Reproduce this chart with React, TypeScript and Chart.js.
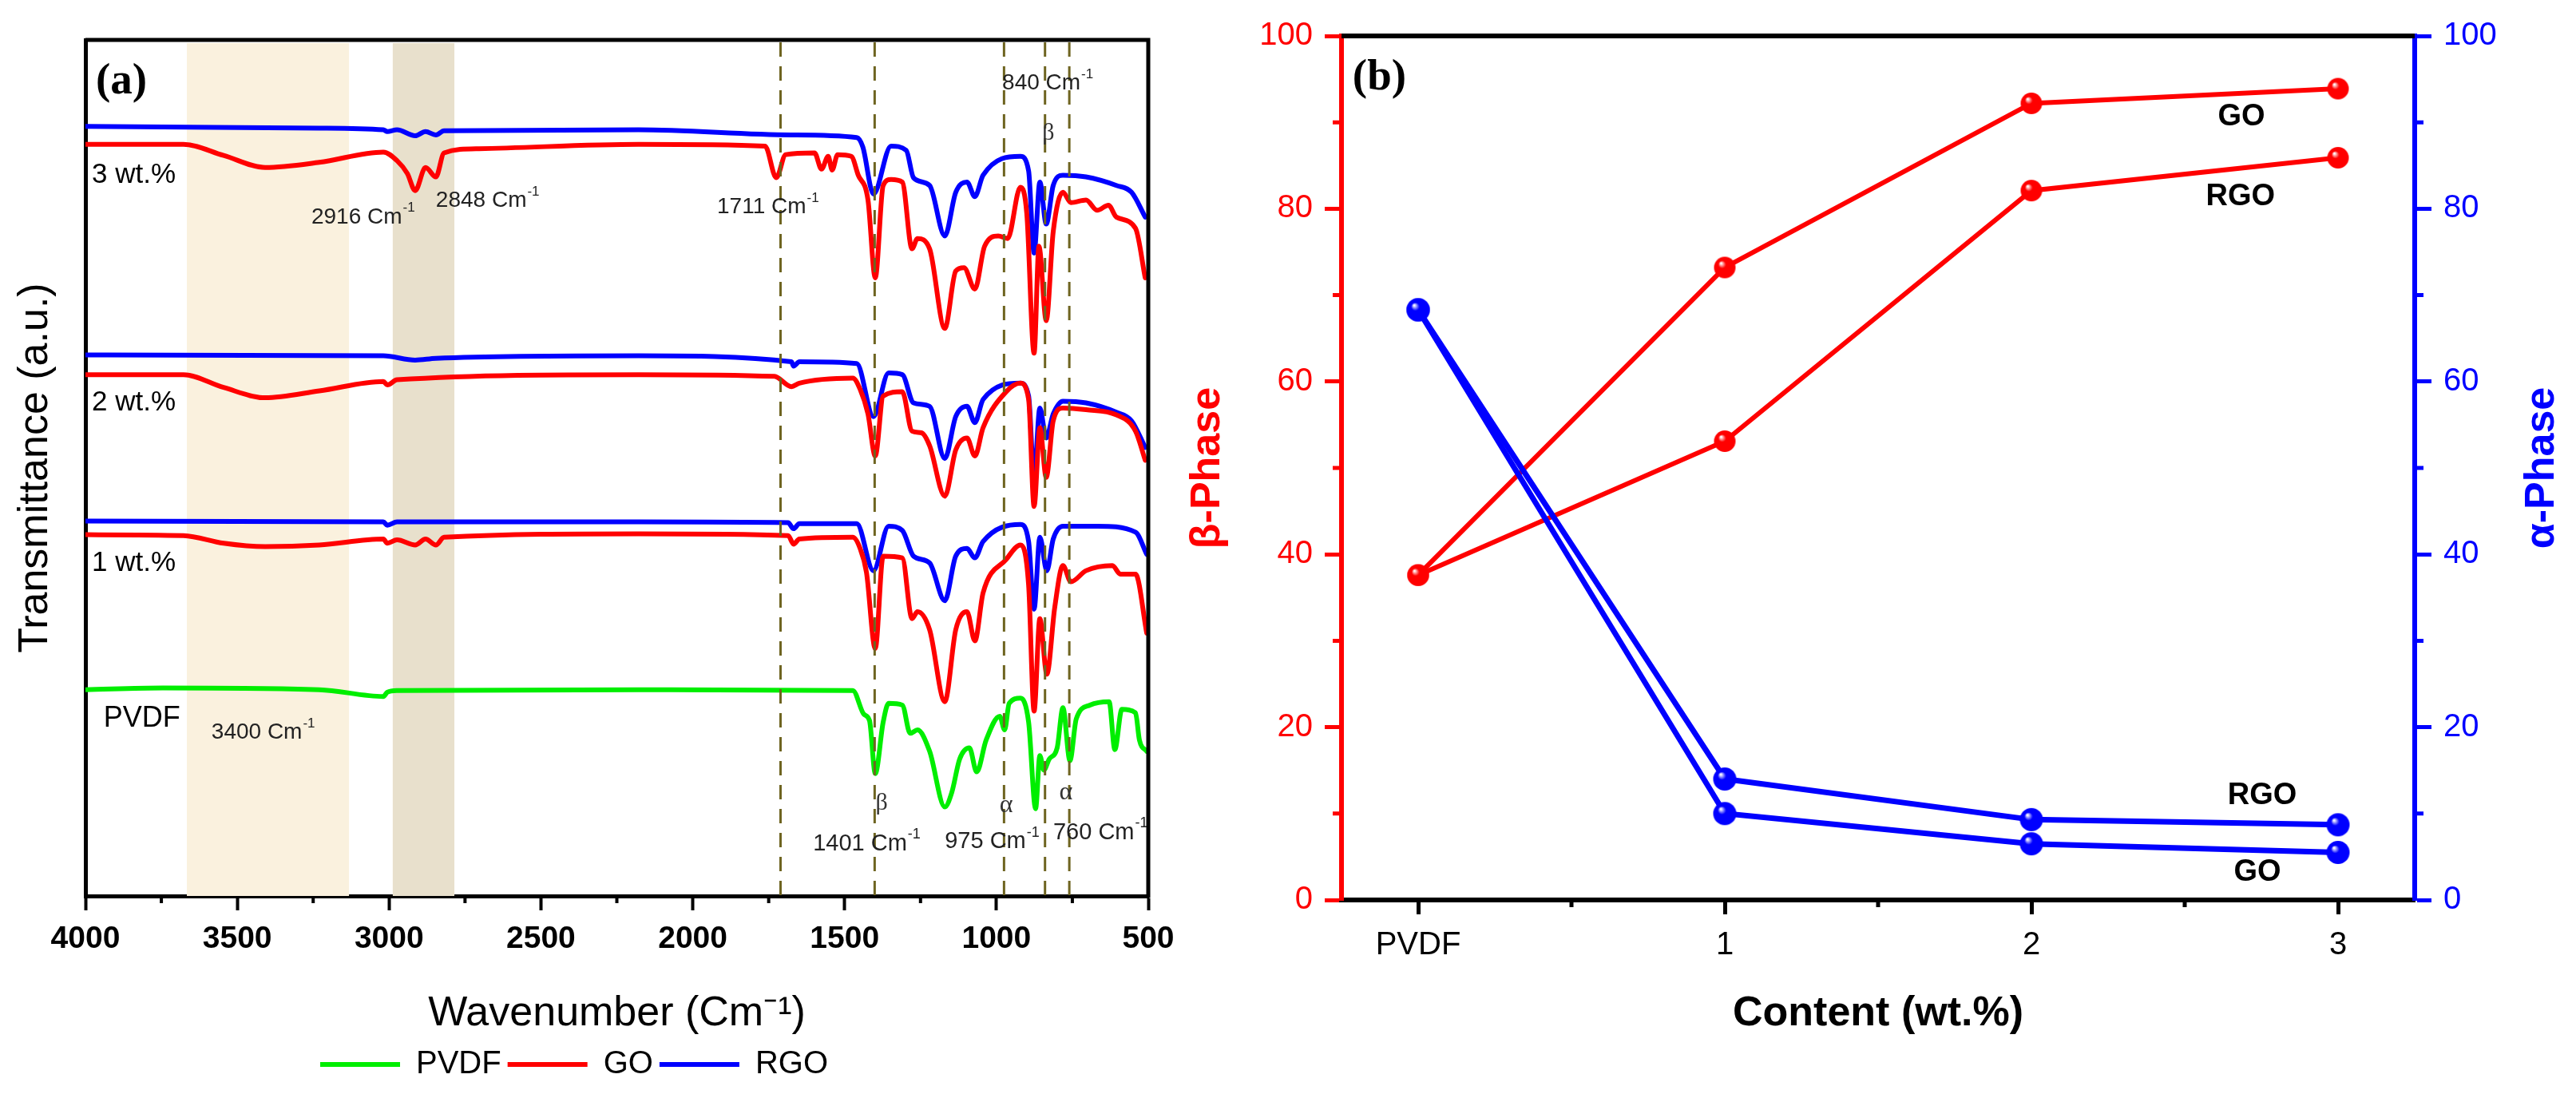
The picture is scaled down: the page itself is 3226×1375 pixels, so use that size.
import { useEffect, useRef } from 'react'
import { Chart, registerables } from 'chart.js'

Chart.register(...registerables)

const SANS = '"Liberation Sans", Arial, sans-serif'
const SERIF = '"Liberation Serif", "Times New Roman", serif'
const RED = '#ff0000'
const BLUE = '#0000ff'
const GREEN = '#00ee00'

// ---------- panel (a): FTIR spectra, [wavenumber (cm-1), transmittance (a.u.)] ----------
const pvdf = [
  [4000, 24.1], [3745, 24.3], [3230, 24.1], [3019, 23.3], [3006, 23.8], [2974, 24.0], [2178, 24.1],
  [1473, 24.0], [1436, 21.2], [1418, 20.5], [1399, 14.3], [1373, 20.3], [1355, 22.5], [1310, 22.3],
  [1284, 19.0], [1260, 19.4], [1220, 16.9], [1170, 10.4], [1147, 12.1], [1121, 16.0], [1089, 17.3],
  [1065, 14.5], [1034, 18.2], [989, 21.0], [973, 19.4], [958, 22.5], [921, 23.1], [894, 20.3],
  [871, 10.2], [857, 16.4], [844, 14.7], [826, 16.0], [800, 17.3], [781, 22.0], [758, 15.8],
  [737, 20.7], [692, 22.3], [629, 22.7], [610, 17.1], [587, 21.8], [542, 21.4], [529, 18.2], [505, 16.9],
]
const go1 = [
  [4000, 42.2], [3677, 42.1], [3545, 41.2], [3408, 40.8], [3230, 41.0], [3019, 41.7], [3006, 41.2],
  [2974, 41.6], [2914, 41.0], [2880, 41.7], [2846, 41.0], [2819, 41.9], [2178, 42.3], [1686, 42.1],
  [1668, 41.1], [1649, 41.7], [1473, 41.9], [1449, 40.6], [1428, 37.8], [1399, 28.9], [1373, 39.7],
  [1310, 39.5], [1278, 32.4], [1260, 33.2], [1220, 31.1], [1170, 22.7], [1134, 31.1], [1097, 33.2],
  [1071, 29.8], [1044, 35.4], [968, 39.3], [921, 41.0], [894, 36.3], [876, 21.6], [857, 32.4],
  [834, 25.9], [808, 33.7], [781, 38.6], [755, 36.7], [705, 38.0], [618, 38.6], [592, 37.6],
  [542, 37.6], [505, 30.7],
]
const rgo1 = [
  [4000, 43.8], [3019, 43.7], [3006, 43.3], [2974, 43.7], [2178, 43.7], [1686, 43.6], [1668, 42.9],
  [1649, 43.5], [1460, 43.5], [1405, 38.0], [1355, 43.2], [1310, 42.7], [1273, 39.7], [1220, 38.9],
  [1170, 34.5], [1134, 39.7], [1097, 40.6], [1071, 39.5], [1044, 41.4], [921, 43.4], [894, 41.4],
  [876, 33.5], [857, 41.9], [834, 38.0], [813, 41.7], [781, 43.2], [668, 43.2], [542, 42.5], [505, 39.9],
]
const go2 = [
  [4000, 60.9], [3677, 60.9], [3545, 59.4], [3408, 58.2], [3230, 59.0], [3019, 60.1], [3006, 59.7],
  [2974, 60.3], [2178, 60.9], [1731, 60.7], [1675, 59.5], [1649, 59.9], [1473, 60.5], [1449, 59.2],
  [1423, 56.3], [1399, 51.4], [1373, 58.4], [1310, 58.9], [1278, 54.3], [1247, 54.1], [1220, 52.6],
  [1170, 46.7], [1134, 52.1], [1097, 53.5], [1071, 51.4], [1044, 54.7], [968, 58.9], [921, 59.9],
  [894, 58.0], [876, 45.5], [857, 54.7], [836, 48.9], [813, 55.5], [781, 57.0], [705, 56.8],
  [605, 56.2], [542, 54.3], [510, 50.9],
]
const rgo2 = [
  [4000, 63.2], [3019, 63.1], [2914, 62.6], [2846, 62.8], [2178, 63.1], [1675, 62.4], [1668, 61.9],
  [1649, 62.4], [1460, 62.2], [1405, 56.0], [1355, 61.1], [1310, 60.9], [1273, 57.6], [1220, 57.2],
  [1170, 51.1], [1134, 56.0], [1097, 57.2], [1071, 55.3], [1044, 58.0], [921, 59.9], [894, 58.4],
  [876, 48.9], [857, 57.0], [836, 53.5], [813, 56.3], [781, 57.8], [705, 57.6], [605, 56.5],
  [555, 55.5], [510, 52.4],
]
const go3 = [
  [4000, 87.8], [3677, 87.8], [3545, 86.5], [3408, 85.1], [3230, 85.7], [3019, 86.9], [2974, 85.9],
  [2940, 84.4], [2914, 82.4], [2880, 85.1], [2846, 84.0], [2819, 86.8], [2704, 87.3], [2178, 87.8],
  [1762, 87.6], [1725, 83.9], [1694, 86.6], [1599, 86.8], [1576, 84.9], [1554, 86.4], [1541, 84.8],
  [1523, 86.6], [1478, 86.4], [1455, 84.2], [1423, 81.3], [1399, 72.2], [1373, 83.0], [1347, 83.7],
  [1310, 83.4], [1278, 75.6], [1260, 76.8], [1220, 75.6], [1170, 66.3], [1134, 73.0], [1107, 73.4],
  [1071, 70.9], [1039, 75.9], [994, 77.1], [963, 76.8], [921, 82.8], [900, 79.7], [876, 63.4],
  [860, 75.9], [836, 67.2], [813, 77.6], [781, 82.2], [755, 81.0], [705, 81.3], [668, 80.1],
  [631, 80.7], [605, 79.3], [542, 78.0], [510, 72.2],
]
const rgo3 = [
  [4000, 89.9], [3230, 89.7], [3019, 89.5], [3006, 89.3], [2974, 89.5], [2914, 88.8], [2880, 89.3],
  [2846, 88.9], [2819, 89.4], [2178, 89.5], [1675, 88.9], [1460, 88.6], [1440, 87.5], [1405, 82.0],
  [1347, 87.6], [1297, 87.1], [1273, 83.9], [1220, 83.0], [1170, 77.1], [1134, 82.2], [1097, 83.4],
  [1071, 81.7], [1044, 84.2], [921, 86.4], [894, 84.7], [876, 75.1], [857, 83.4], [836, 78.5],
  [813, 83.0], [781, 84.2], [705, 84.0], [605, 83.0], [555, 82.2], [510, 79.3],
]

const wnTicks = [4000, 3500, 3000, 2500, 2000, 1500, 1000, 500]
const wnMinor = [3750, 3250, 2750, 2250, 1750, 1250, 750]
const bands = [[3666, 3132, '#faf1de'], [2988, 2785, '#e8e0cc']]
const peakLines = [1711, 1401, 975, 840, 760]

// ---------- panel (b): phase content ----------
const contentPos = [0, 1, 2, 3]
const contentLabels = ['PVDF', '1', '2', '3']
const contentMinor = [0.5, 1.5, 2.5]
const betaGO = [37.6, 73.2, 92.2, 93.9]
const betaRGO = [37.6, 53.1, 82.1, 85.9]
const alphaGO = [68.3, 10.0, 6.5, 5.5]
const alphaRGO = [68.3, 14.0, 9.3, 8.7]
const phaseTicks = [0, 20, 40, 60, 80, 100]
const phaseMinor = [10, 30, 50, 70, 90]

type Note = {
  text: string; sup?: string; x: number; y: number; size: number
  family?: string; weight?: string; align?: CanvasTextAlign; color?: string
}

const notesA: Note[] = [
  { text: '(a)', x: 3966, y: 95.1, size: 55, family: SERIF, weight: 'bold' },
  { text: '3 wt.%', x: 3979, y: 84.2, size: 35 },
  { text: '2 wt.%', x: 3979, y: 57.6, size: 35 },
  { text: '1 wt.%', x: 3979, y: 38.9, size: 35 },
  { text: 'PVDF', x: 3940, y: 20.7, size: 36 },
  { text: '3400 Cm', sup: '-1', x: 3585, y: 19.1, size: 28, color: '#222' },
  { text: '2916 Cm', sup: '-1', x: 3256, y: 79.3, size: 28, color: '#222' },
  { text: '2848 Cm', sup: '-1', x: 2846, y: 81.2, size: 28, color: '#222' },
  { text: '1711 Cm', sup: '-1', x: 1920, y: 80.5, size: 28, color: '#222' },
  { text: '840 Cm', sup: '-1', x: 981, y: 94.9, size: 28, color: '#222' },
  { text: 'β', x: 829, y: 89.1, size: 30, family: SERIF, align: 'center', color: '#333' },
  { text: '1401 Cm', sup: '-1', x: 1604, y: 6.1, size: 29, color: '#222' },
  { text: 'β', x: 1378, y: 10.8, size: 30, family: SERIF, align: 'center', color: '#333' },
  { text: '975 Cm', sup: '-1', x: 1170, y: 6.3, size: 29, color: '#222' },
  { text: 'α', x: 968, y: 10.6, size: 32, family: SERIF, align: 'center', color: '#333' },
  { text: '760 Cm', sup: '-1', x: 813, y: 7.4, size: 29, color: '#222' },
  { text: 'α', x: 771, y: 12.1, size: 32, family: SERIF, align: 'center', color: '#333' },
]

const notesB: Note[] = [
  { text: '(b)', x: -0.214, y: 95.1, size: 55, family: SERIF, weight: 'bold' },
  { text: 'GO', x: 2.685, y: 90.6, size: 38, weight: 'bold', align: 'center' },
  { text: 'RGO', x: 2.682, y: 81.4, size: 38, weight: 'bold', align: 'center' },
  { text: 'RGO', x: 2.753, y: 12.1, size: 38, weight: 'bold', align: 'center' },
  { text: 'GO', x: 2.737, y: 3.2, size: 38, weight: 'bold', align: 'center' },
]

const toXY = (pts: number[][]) => pts.map(([x, y]) => ({ x, y }))

function zeroPad(s: any) {
  s.paddingLeft = 0
  s.paddingRight = 0
  s.paddingTop = 0
  s.paddingBottom = 0
}

function notesPlugin(id: string, notes: Note[], xId: string, yId: string) {
  return {
    id,
    afterDatasetsDraw(chart: any) {
      const { ctx } = chart
      const xs = chart.scales[xId]
      const ys = chart.scales[yId]
      ctx.save()
      ctx.textBaseline = 'middle'
      notes.forEach((n) => {
        const px = xs.getPixelForValue(n.x)
        const py = ys.getPixelForValue(n.y)
        const fam = n.family || SANS
        const w = n.weight || 'normal'
        ctx.fillStyle = n.color || '#000'
        ctx.font = `${w} ${n.size}px ${fam}`
        ctx.textAlign = n.align || 'left'
        ctx.fillText(n.text, px, py)
        if (n.sup) {
          const tw = ctx.measureText(n.text).width
          ctx.font = `${w} ${Math.round(n.size * 0.62)}px ${fam}`
          ctx.textAlign = 'left'
          ctx.fillText(n.sup, px + tw + 1, py - n.size * 0.4)
        }
      })
      ctx.restore()
    },
  }
}

function minorTicks(id: string, axis: string, values: number[], len: number, width: number, color: string) {
  return {
    id,
    afterDraw(chart: any) {
      const s = chart.scales[axis]
      const a = chart.chartArea
      const { ctx } = chart
      ctx.save()
      ctx.strokeStyle = color
      ctx.lineWidth = width
      ctx.beginPath()
      values.forEach((v) => {
        const p = s.getPixelForValue(v)
        if (s.position === 'bottom') {
          ctx.moveTo(p, a.bottom)
          ctx.lineTo(p, a.bottom + len)
        } else if (s.position === 'left') {
          ctx.moveTo(a.left - len, p)
          ctx.lineTo(a.left, p)
        } else {
          ctx.moveTo(a.right, p)
          ctx.lineTo(a.right + len, p)
        }
      })
      ctx.stroke()
      ctx.restore()
    },
  }
}

function frameLines(id: string, sides: string[], width: number) {
  return {
    id,
    afterDraw(chart: any) {
      const { ctx } = chart
      const a = chart.chartArea
      ctx.save()
      ctx.strokeStyle = '#000'
      ctx.lineWidth = width
      ctx.beginPath()
      if (sides.includes('top')) {
        ctx.moveTo(a.left, a.top)
        ctx.lineTo(a.right, a.top)
      }
      if (sides.includes('right')) {
        ctx.moveTo(a.right, a.top - width / 2)
        ctx.lineTo(a.right, a.bottom + width / 2)
      }
      ctx.stroke()
      ctx.restore()
    },
  }
}

const bandsPlugin = {
  id: 'bands',
  beforeDatasetsDraw(chart: any) {
    const { ctx } = chart
    const a = chart.chartArea
    const xs = chart.scales.x
    ctx.save()
    bands.forEach(([from, to, color]) => {
      const x1 = xs.getPixelForValue(from as number)
      const x2 = xs.getPixelForValue(to as number)
      ctx.fillStyle = color as string
      ctx.fillRect(Math.min(x1, x2), a.top + 4, Math.abs(x2 - x1), a.bottom - a.top - 4)
    })
    ctx.restore()
  },
  afterDatasetsDraw(chart: any) {
    const { ctx } = chart
    const a = chart.chartArea
    const xs = chart.scales.x
    ctx.save()
    ctx.strokeStyle = '#6e6420'
    ctx.lineWidth = 3
    ctx.setLineDash([18, 12])
    peakLines.forEach((wn) => {
      const x = xs.getPixelForValue(wn)
      ctx.beginPath()
      ctx.moveTo(x, a.top + 3)
      ctx.lineTo(x, a.bottom)
      ctx.stroke()
    })
    ctx.restore()
  },
}

function sphere(color: string, r: number) {
  const c = document.createElement('canvas')
  const size = Math.ceil(r * 2 + 2)
  c.width = size
  c.height = size
  const g = c.getContext('2d')!
  const m = size / 2
  const grad = g.createRadialGradient(m - r * 0.35, m - r * 0.4, r * 0.05, m, m, r)
  grad.addColorStop(0, '#ffffff')
  grad.addColorStop(0.32, color)
  grad.addColorStop(1, color)
  g.fillStyle = grad
  g.beginPath()
  g.arc(m, m, r, 0, Math.PI * 2)
  g.fill()
  return c
}

function SpectraPanel() {
  const canvasRef = useRef<HTMLCanvasElement>(null)
  const chartRef = useRef<Chart | null>(null)

  useEffect(() => {
    if (!canvasRef.current) return
    if (chartRef.current) chartRef.current.destroy()

    const trace = (label: string, pts: number[][], color: string) => ({
      label,
      data: toXY(pts),
      borderColor: color,
      backgroundColor: color,
      borderWidth: 6,
      borderJoinStyle: 'round',
      borderCapStyle: 'round',
      cubicInterpolationMode: 'monotone',
      pointRadius: 0,
      pointBorderWidth: 6,
    })

    chartRef.current = new Chart(canvasRef.current, {
      type: 'line',
      data: {
        datasets: [
          trace('PVDF', pvdf, GREEN),
          trace('GO', go1, RED),
          trace('RGO', rgo1, BLUE),
          trace('GO 2 wt.%', go2, RED),
          trace('RGO 2 wt.%', rgo2, BLUE),
          trace('GO 3 wt.%', go3, RED),
          trace('RGO 3 wt.%', rgo3, BLUE),
        ],
      },
      options: {
        animation: false,
        responsive: true,
        maintainAspectRatio: false,
        layout: { padding: { top: 50, right: 62, bottom: 12, left: 0 } },
        plugins: {
          legend: {
            position: 'bottom',
            labels: {
              usePointStyle: true,
              pointStyle: 'line',
              pointStyleWidth: 100,
              padding: 8,
              color: '#000',
              font: { family: SANS, size: 40 },
              filter: (item: any) => item.datasetIndex < 3,
            },
          },
          tooltip: { enabled: false },
        },
        scales: {
          x: {
            type: 'linear',
            reverse: true,
            min: 500,
            max: 4000,
            afterBuildTicks: (s: any) => {
              s.ticks = wnTicks.map((v) => ({ value: v }))
            },
            afterFit: (s: any) => {
              s.height = 183
              zeroPad(s)
            },
            ticks: {
              callback: (v: any) => String(v),
              color: '#000',
              font: { family: SANS, size: 39, weight: 'bold' },
              padding: 13,
              autoSkip: false,
              maxRotation: 0,
            },
            grid: { drawOnChartArea: false, drawTicks: true, tickLength: 18, tickWidth: 4, tickColor: '#000' },
            border: { display: true, color: '#000', width: 5 },
            title: {
              display: true,
              text: 'Wavenumber (Cm⁻¹)',
              color: '#000',
              font: { family: SANS, size: 52 },
              padding: { top: 0, bottom: 4 },
            },
          },
          y: {
            type: 'linear',
            min: 0,
            max: 100,
            afterFit: (s: any) => {
              s.width = 107
              zeroPad(s)
            },
            ticks: { display: false },
            grid: { drawOnChartArea: false, drawTicks: false },
            border: { display: true, color: '#000', width: 5 },
            title: {
              display: true,
              text: 'Transmittance (a.u.)',
              color: '#000',
              font: { family: SANS, size: 52 },
              padding: { top: 13, bottom: 0 },
            },
          },
        },
      },
      plugins: [
        bandsPlugin,
        minorTicks('minorWn', 'x', wnMinor, 9, 4, '#000'),
        frameLines('frameA', ['top', 'right'], 5),
        notesPlugin('notesA', notesA, 'x', 'y'),
      ],
    } as any)

    return () => {
      if (chartRef.current) {
        chartRef.current.destroy()
        chartRef.current = null
      }
    }
  }, [])

  return (
    <div style={{ position: 'absolute', left: 0, top: 0, width: 1500, height: 1375 }}>
      <canvas ref={canvasRef}></canvas>
    </div>
  )
}

function PhasePanel() {
  const canvasRef = useRef<HTMLCanvasElement>(null)
  const chartRef = useRef<Chart | null>(null)

  useEffect(() => {
    if (!canvasRef.current) return
    if (chartRef.current) chartRef.current.destroy()

    const redBall = sphere(RED, 13.5)
    const blueBall = sphere(BLUE, 14.5)
    const series = (label: string, values: number[], color: string, axis: string, ball: HTMLCanvasElement, width: number) => ({
      label,
      data: values.map((y, i) => ({ x: contentPos[i], y })),
      yAxisID: axis,
      borderColor: color,
      backgroundColor: color,
      borderWidth: width,
      pointStyle: ball,
      pointRadius: 14,
      tension: 0,
      clip: false,
    })

    const alphaTitle = {
      id: 'alphaTitle',
      afterDraw(chart: any) {
        const s = chart.scales.yAlpha
        const a = chart.chartArea
        const { ctx } = chart
        ctx.save()
        ctx.translate(s.right - 42, (a.top + a.bottom) / 2)
        ctx.rotate(-Math.PI / 2)
        ctx.fillStyle = BLUE
        ctx.font = `bold 52px ${SANS}`
        ctx.textAlign = 'center'
        ctx.textBaseline = 'middle'
        ctx.fillText('α-Phase', 0, 0)
        ctx.restore()
      },
    }

    const phaseAxis = (pos: string, color: string, width: number) => ({
      type: 'linear',
      position: pos,
      min: 0,
      max: 100,
      afterBuildTicks: (s: any) => {
        s.ticks = phaseTicks.map((v) => ({ value: v }))
      },
      afterFit: (s: any) => {
        s.width = width
        zeroPad(s)
      },
      ticks: { color, font: { family: SANS, size: 40 }, padding: 15 },
      grid: { drawOnChartArea: false, drawTicks: true, tickLength: 21, tickWidth: 5, tickColor: color },
      border: { display: true, color, width: 6 },
    })

    chartRef.current = new Chart(canvasRef.current, {
      type: 'line',
      data: {
        datasets: [
          series('α GO', alphaGO, BLUE, 'yAlpha', blueBall, 7),
          series('α RGO', alphaRGO, BLUE, 'yAlpha', blueBall, 7),
          series('β GO', betaGO, RED, 'yBeta', redBall, 6),
          series('β RGO', betaRGO, RED, 'yBeta', redBall, 6),
        ],
      },
      options: {
        animation: false,
        responsive: true,
        maintainAspectRatio: false,
        layout: { padding: { top: 45, right: 0, bottom: 74, left: 0 } },
        plugins: { legend: { display: false }, tooltip: { enabled: false } },
        scales: {
          x: {
            type: 'linear',
            min: -0.25,
            max: 3.25,
            afterBuildTicks: (s: any) => {
              s.ticks = contentPos.map((v) => ({ value: v }))
            },
            afterFit: (s: any) => {
              s.height = 174
              zeroPad(s)
            },
            ticks: {
              callback: (_v: any, i: number) => contentLabels[i],
              color: '#000',
              font: { family: SANS, size: 40 },
              padding: 15,
              autoSkip: false,
              maxRotation: 0,
            },
            grid: { drawOnChartArea: false, drawTicks: true, tickLength: 18, tickWidth: 5, tickColor: '#000' },
            border: { display: true, color: '#000', width: 6 },
            title: {
              display: true,
              text: 'Content (wt.%)',
              color: '#000',
              font: { family: SANS, size: 52, weight: 'bold' },
              padding: { top: 0, bottom: 0 },
            },
          },
          yBeta: {
            ...phaseAxis('left', RED, 240),
            title: {
              display: true,
              text: 'β-Phase',
              color: RED,
              font: { family: SANS, size: 52, weight: 'bold' },
              padding: { top: 41, bottom: 0 },
            },
          },
          yAlpha: phaseAxis('right', BLUE, 202),
        },
      },
      plugins: [
        minorTicks('minorContent', 'x', contentMinor, 9, 5, '#000'),
        minorTicks('minorBeta', 'yBeta', phaseMinor, 11, 5, RED),
        minorTicks('minorAlpha', 'yAlpha', phaseMinor, 11, 5, BLUE),
        frameLines('frameB', ['top'], 6),
        alphaTitle,
        notesPlugin('notesB', notesB, 'x', 'yBeta'),
      ],
    } as any)

    return () => {
      if (chartRef.current) {
        chartRef.current.destroy()
        chartRef.current = null
      }
    }
  }, [])

  return (
    <div style={{ position: 'absolute', left: 1440, top: 0, width: 1786, height: 1375 }}>
      <canvas ref={canvasRef}></canvas>
    </div>
  )
}

export default function App() {
  return (
    <div style={{ position: 'absolute', left: 0, top: 0, width: 3226, height: 1375, background: '#fff' }}>
      <SpectraPanel />
      <PhasePanel />
    </div>
  )
}
